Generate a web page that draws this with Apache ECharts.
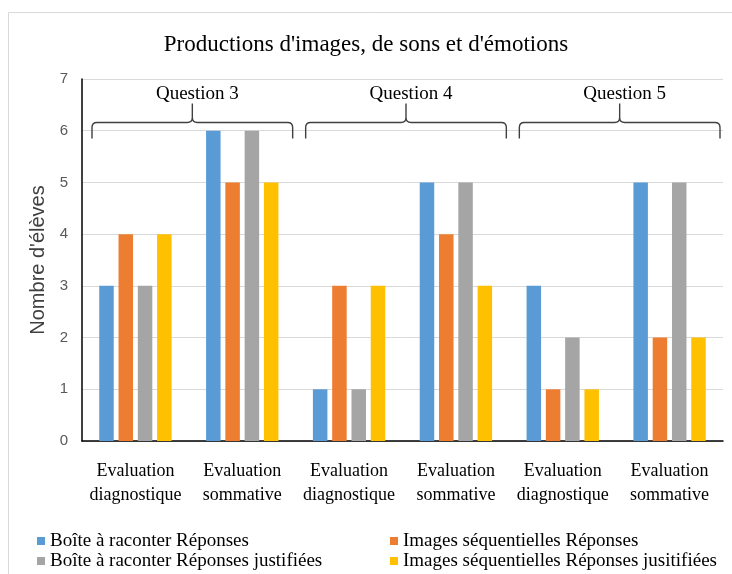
<!DOCTYPE html>
<html>
<head>
<meta charset="utf-8">
<script src="https://cdn.jsdelivr.net/npm/echarts@6/dist/echarts.min.js"></script>
<style>
html,body{margin:0;padding:0;background:#fff;}
#c{width:732px;height:574px;}
</style>
</head>
<body>
<div id="c"></div>
<script>
const categories = ['Evaluation\ndiagnostique','Evaluation\nsommative','Evaluation\ndiagnostique','Evaluation\nsommative','Evaluation\ndiagnostique','Evaluation\nsommative'];
const seriesNames = ['Boîte à raconter Réponses','Images séquentielles Réponses','Boîte à raconter Réponses justifiées','Images séquentielles Réponses jusitifiées'];
const boiteReponses = [3, 6, 1, 5, 3, 5];
const imagesReponses = [4, 5, 3, 4, 1, 2];
const boiteJustifiees = [3, 6, 1, 5, 2, 5];
const imagesJustifiees = [4, 5, 3, 3, 1, 2];
const yTicks = [0, 1, 2, 3, 4, 5, 6, 7];
const questionLabels = ['Question 3', 'Question 4', 'Question 5'];
const questionSpans = [[0, 1], [2, 3], [4, 5]];

const colors = ['#5B9BD5', '#ED7D31', '#A5A5A5', '#FFC000'];
const serif = '"Liberation Serif", "Times New Roman", serif';
const sans = '"Liberation Sans", Arial, sans-serif';
const braceLevel = 6.16;

const chart = echarts.init(document.getElementById('c'), null, {renderer: 'canvas'});

function renderBrace(params, api) {
  const s = api.value(0), e = api.value(1);
  const band = api.size([1, 0])[0];
  const pS = api.coord([s, braceLevel]);
  const pE = api.coord([e, braceLevel]);
  const left = pS[0] - band / 2 + 10;
  const right = pE[0] + band / 2 - 3;
  const y = pS[1];
  const bottom = y + 16;
  const tip = y - 19;
  const mid = (left + right) / 2;
  const r = 5;
  const path = 'M' + left + ',' + bottom +
    ' L' + left + ',' + (y + r) +
    ' Q' + left + ',' + y + ' ' + (left + r) + ',' + y +
    ' L' + (mid - r) + ',' + y +
    ' Q' + mid + ',' + y + ' ' + mid + ',' + (y - r) +
    ' L' + mid + ',' + tip +
    ' M' + mid + ',' + (y - r) +
    ' Q' + mid + ',' + y + ' ' + (mid + r) + ',' + y +
    ' L' + (right - r) + ',' + y +
    ' Q' + right + ',' + y + ' ' + right + ',' + (y + r) +
    ' L' + right + ',' + bottom;
  return {
    type: 'group',
    children: [
      {type: 'path', shape: {pathData: path}, style: {fill: null, stroke: '#404040', lineWidth: 1.4}},
      {type: 'text', x: mid + 5, y: tip - 9, style: {text: questionLabels[params.dataIndex], font: '19px ' + serif, fill: '#000', align: 'center', verticalAlign: 'middle'}}
    ]
  };
}

const barSeries = [boiteReponses, imagesReponses, boiteJustifiees, imagesJustifiees].map((d, i) => ({
  name: seriesNames[i],
  type: 'bar',
  data: d,
  barWidth: 14.5,
  barGap: '33%',
  itemStyle: {color: colors[i]},
  emphasis: {disabled: true}
}));

chart.setOption({
  animation: false,
  backgroundColor: '#fff',
  color: colors,
  title: {
    text: "Productions d'images, de sons et d'émotions",
    left: 'center',
    top: 28,
    textStyle: {fontFamily: serif, fontSize: 23, fontWeight: 'normal', color: '#000'}
  },
  graphic: [{
    type: 'rect', shape: {x: 8.5, y: 12.5, width: 740, height: 600},
    style: {fill: null, stroke: '#d9d9d9', lineWidth: 1}, silent: true, z: -10
  }],
  legend: {
    data: seriesNames,
    orient: 'horizontal',
    left: 32, top: 526, width: 710,
    itemGap: 0,
    itemWidth: 8, itemHeight: 8, icon: 'rect',
    textStyle: {fontFamily: serif, fontSize: 19, color: '#000', width: 340, lineHeight: 20, overflow: 'none', padding: [0, 0, 0, 0]}
  },
  grid: {left: 82, right: 9, top: 79, bottom: 133, containLabel: false},
  xAxis: {
    type: 'category',
    data: categories,
    axisLine: {lineStyle: {color: '#000', width: 1.5}},
    axisTick: {show: false},
    axisLabel: {fontFamily: serif, fontSize: 18, color: '#000', lineHeight: 24, margin: 18, interval: 0}
  },
  yAxis: {
    type: 'value',
    min: yTicks[0], max: yTicks[yTicks.length - 1], interval: 1,
    name: "Nombre d'élèves",
    nameLocation: 'middle',
    nameGap: 31,
    nameTextStyle: {fontFamily: sans, fontSize: 20, color: '#404040'},
    axisLine: {show: true, lineStyle: {color: '#000', width: 1.5}},
    axisTick: {show: false},
    axisLabel: {fontFamily: sans, fontSize: 15, color: '#595959', margin: 14},
    splitLine: {lineStyle: {color: '#d9d9d9', width: 1}}
  },
  series: barSeries.concat([{
    type: 'custom',
    renderItem: renderBrace,
    data: questionSpans,
    encode: {x: [0, 1]},
    clip: false,
    silent: true,
    z: 5
  }])
});
</script>
</body>
</html>
